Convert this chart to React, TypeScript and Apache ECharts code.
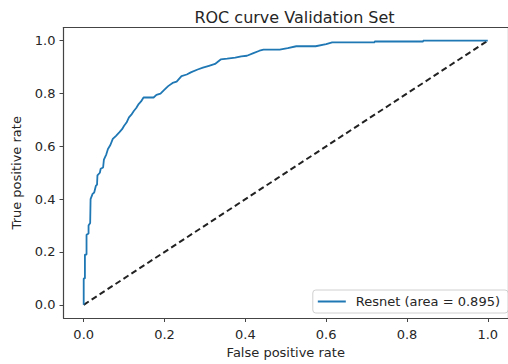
import React, { useEffect, useRef } from "react";
import * as echarts from "echarts";

const fpr = [0, 0, 0.003, 0.003, 0.007, 0.007, 0.012, 0.012, 0.016, 0.017, 0.022, 0.026, 0.03, 0.033, 0.034, 0.04, 0.042, 0.048, 0.05, 0.056, 0.06, 0.066, 0.072, 0.08, 0.088, 0.095, 0.1, 0.106, 0.112, 0.118, 0.124, 0.13, 0.136, 0.142, 0.148, 0.16, 0.173, 0.18, 0.19, 0.198, 0.209, 0.22, 0.23, 0.242, 0.255, 0.265, 0.282, 0.295, 0.31, 0.325, 0.339, 0.355, 0.375, 0.39, 0.404, 0.42, 0.435, 0.445, 0.485, 0.505, 0.526, 0.574, 0.6, 0.615, 0.72, 0.72, 0.84, 0.84, 1.0];
const tpr = [0, 0.1, 0.1, 0.19, 0.19, 0.265, 0.27, 0.3, 0.31, 0.4, 0.42, 0.425, 0.45, 0.455, 0.49, 0.5, 0.515, 0.52, 0.55, 0.57, 0.59, 0.605, 0.628, 0.64, 0.653, 0.665, 0.678, 0.69, 0.71, 0.72, 0.734, 0.745, 0.76, 0.77, 0.785, 0.785, 0.785, 0.795, 0.8, 0.812, 0.828, 0.84, 0.845, 0.866, 0.872, 0.88, 0.891, 0.898, 0.905, 0.912, 0.929, 0.932, 0.936, 0.941, 0.943, 0.953, 0.962, 0.966, 0.966, 0.972, 0.979, 0.979, 0.987, 0.994, 0.994, 0.997, 0.997, 1.0, 1.0];
const diagonal = [[0, 0], [1, 1]];
const tickValues = [0, 0.2, 0.4, 0.6, 0.8, 1.0];
const seriesName = "Resnet (area = 0.895)";
const title = "ROC curve Validation Set";
const xName = "False positive rate";
const yName = "True positive rate";

export default function App() {
  const ref = useRef<HTMLDivElement>(null);
  useEffect(() => {
    document.body.style.margin = "0";
    document.body.style.overflow = "hidden";
    const chart = echarts.init(ref.current!, null, { renderer: "svg" });
    const font = "DejaVu Sans";
    const txt = "#262626";
    const spine = { show: true, onZero: false, lineStyle: { color: "#444", width: 1.2 } };
    const mainAxis = (name: string, isX: boolean) => ({
      type: "value",
      min: -0.05,
      max: 1.05,
      position: isX ? "bottom" : "left",
      name,
      nameLocation: "middle",
      nameGap: isX ? 28 : 41,
      nameTextStyle: { fontFamily: font, fontSize: 13, color: txt },
      axisLine: spine,
      axisTick: { show: true, inside: false, length: 4, customValues: tickValues, lineStyle: { color: "#444", width: 1 } },
      axisLabel: {
        customValues: tickValues,
        formatter: (v: number) => v.toFixed(1),
        fontFamily: font,
        fontSize: 13,
        color: txt,
        margin: isX ? 10 : 8,
      },
      splitLine: { show: false },
    });
    const frameAxis = (pos: string) => ({
      type: "value",
      min: -0.05,
      max: 1.05,
      position: pos,
      axisLine: spine,
      axisTick: { show: false },
      axisLabel: { show: false },
      splitLine: { show: false },
    });
    chart.setOption({
      animation: false,
      backgroundColor: "#fff",
      title: {
        text: title,
        left: 289.5,
        textAlign: "center",
        top: 4,
        textStyle: { fontFamily: font, fontSize: 16, fontWeight: "normal", color: txt },
      },
      grid: {
        left: 63.5,
        top: 27.5,
        width: 452,
        height: 293,
      },
      xAxis: [mainAxis(xName, true), frameAxis("top")],
      yAxis: [{ ...mainAxis(yName, false), nameRotate: 90 }, frameAxis("right")],
      legend: {
        data: [seriesName],
        right: 0,
        bottom: 51,
        orient: "vertical",
        icon: "rect",
        itemWidth: 28,
        itemHeight: 2,
        padding: [5, 8, 5, 5],
        backgroundColor: "#fff",
        borderColor: "#d0d0d0",
        borderWidth: 1,
        borderRadius: 3,
        textStyle: { fontFamily: font, fontSize: 13, color: txt, padding: [0, 0, 0, 5] },
      },
      series: [
        {
          name: seriesName,
          type: "line",
          xAxisIndex: 0,
          yAxisIndex: 0,
          data: fpr.map((x, i) => [x, tpr[i]]),
          showSymbol: false,
          symbol: "none",
          lineStyle: { color: "#1f77b4", width: 1.8 },
          itemStyle: { color: "#1f77b4" },
          z: 3,
        },
        {
          name: "diag",
          type: "line",
          xAxisIndex: 0,
          yAxisIndex: 0,
          data: diagonal,
          showSymbol: false,
          symbol: "none",
          lineStyle: { color: "#222", width: 2, type: [6, 3.5] },
          z: 2,
        },
      ],
    });
    return () => chart.dispose();
  }, []);
  return <div ref={ref} style={{ width: 508, height: 364 }} />;
}
